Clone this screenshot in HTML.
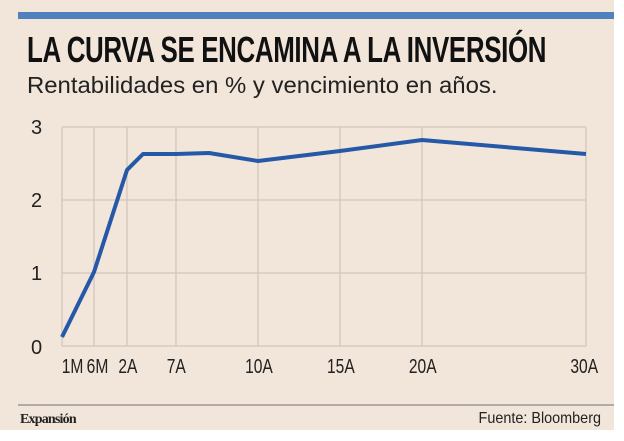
<!DOCTYPE html>
<html><head><meta charset="utf-8"><style>
body{margin:0;width:624px;height:436px;background:#fff;overflow:hidden}
</style></head><body>
<svg width="624" height="436" xmlns="http://www.w3.org/2000/svg" font-family="Liberation Sans, sans-serif">
<rect x="0" y="0" width="614" height="430" fill="#f2e6da"/>
<rect x="18" y="12" width="596" height="7" fill="#4f81bd"/>
<text x="27" y="62" font-size="36" font-weight="bold" fill="#111" transform="scale(0.72,1)" transform-origin="27 62" style="letter-spacing:-0.5px">LA CURVA SE ENCAMINA A LA INVERSIÓN</text>
<text x="27" y="93" font-size="23" fill="#222" transform="scale(1.04,1)" transform-origin="27 93">Rentabilidades en % y vencimiento en años.</text>
<g stroke="#d2c6bb" stroke-width="1.3">
<line x1="62" y1="127" x2="586" y2="127"/><line x1="62" y1="200" x2="586" y2="200"/>
<line x1="62" y1="273" x2="586" y2="273"/><line x1="62" y1="346" x2="586" y2="346"/>
<line x1="62" y1="127" x2="62" y2="346"/><line x1="94" y1="127" x2="94" y2="346"/>
<line x1="127" y1="127" x2="127" y2="346"/><line x1="176" y1="127" x2="176" y2="346"/>
<line x1="258" y1="127" x2="258" y2="346"/><line x1="340" y1="127" x2="340" y2="346"/>
<line x1="422" y1="127" x2="422" y2="346"/><line x1="586" y1="127" x2="586" y2="346"/>
</g>
<g font-size="20" fill="#222">
<text x="31" y="134">3</text><text x="31" y="207">2</text><text x="31" y="280">1</text><text x="31" y="354">0</text>
</g>
<polyline points="62,337 94,272 127,170 143,154 176,154 209,153 258,161 340,151 422,140 586,154" fill="none" stroke="#2559a8" stroke-width="4" stroke-linejoin="round"/>
<g font-size="20" fill="#222" text-anchor="middle" transform="scale(0.78,1)">
<text x="93" y="373">1M</text><text x="125" y="373">6M</text><text x="164" y="373">2A</text><text x="226" y="373">7A</text><text x="332" y="373">10A</text><text x="437" y="373">15A</text><text x="542" y="373">20A</text><text x="749" y="373">30A</text>
</g>
<line x1="18" y1="405" x2="614" y2="405" stroke="#888" stroke-width="1.3"/>
<text x="20" y="423" font-size="14" font-weight="bold" font-family="Liberation Serif, serif" fill="#222" style="letter-spacing:-0.8px">Expansión</text>
<text x="601" y="423" font-size="16" fill="#222" text-anchor="end" transform="scale(0.9,1)" transform-origin="601 423">Fuente: Bloomberg</text>
</svg>
</body></html>
